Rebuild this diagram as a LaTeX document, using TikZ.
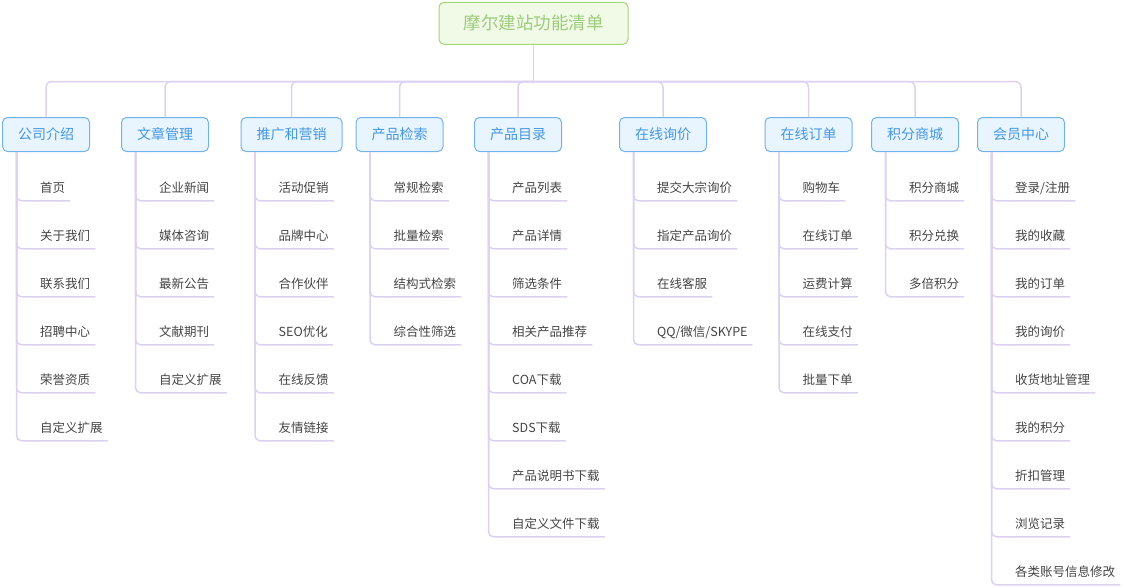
\documentclass[tikz,border=0pt]{standalone}
\usepackage{fontspec}
\newfontfamily\cjk{Noto Sans CJK SC}
\definecolor{lineC}{HTML}{DCD2F0}
\definecolor{catFill}{HTML}{E9F5FE}
\definecolor{catDraw}{HTML}{72B2EC}
\definecolor{catText}{HTML}{4496E4}
\definecolor{rootFill}{HTML}{F1FAE7}
\definecolor{rootDraw}{HTML}{A6D676}
\definecolor{rootText}{HTML}{9CCB7C}
\definecolor{itemText}{HTML}{444444}
\tikzset{
  conn/.style={draw=lineC, line width=1.5pt, rounded corners=6pt},
  rootbox/.style={draw=rootDraw, fill=rootFill, line width=1pt, rounded corners=5pt,
    minimum width=189pt, minimum height=42pt, inner sep=0pt,
    font=\cjk\fontsize{17.5}{18}\selectfont, text=rootText},
  catbox/.style={draw=catDraw, fill=catFill, line width=1pt, rounded corners=5pt,
    minimum height=34pt, inner xsep=15.5pt, inner ysep=0pt,
    font=\cjk\fontsize{14}{15}\selectfont, text=catText},
  itemtext/.style={anchor=base west, inner sep=0pt,
    font=\cjk\fontsize{12.5}{13}\selectfont, text=itemText}
}
\begin{document}
\begin{tikzpicture}[x=1pt,y=-1pt]
\useasboundingbox (0,0) rectangle (1124,587);
\node[rootbox] (r) at (533.5,23.3) {摩尔建站功能清单};
\coordinate (j) at (533.5,81.5);
\draw[conn, rounded corners=0pt] (r.south) -- (j);
\foreach \cx/\nm/\lab/\items in {
  46/ca/公司介绍/{首页,关于我们,联系我们,招聘中心,荣誉资质,自定义扩展},
  165/cb/文章管理/{企业新闻,媒体咨询,最新公告,文献期刊,自定义扩展},
  291.5/cc/推广和营销/{活动促销,品牌中心,合作伙伴,SEO优化,在线反馈,友情链接},
  399.5/cd/产品检索/{常规检索,批量检索,结构式检索,综合性筛选},
  518/ce/产品目录/{产品列表,产品详情,筛选条件,相关产品推荐,COA下载,SDS下载,产品说明书下载,自定义文件下载},
  663/cf/在线询价/{提交大宗询价,指定产品询价,在线客服,QQ/微信/SKYPE},
  808.5/cg/在线订单/{购物车,在线订单,运费计算,在线支付,批量下单},
  915/ch/积分商城/{积分商城,积分兑换,多倍积分},
  1021/ci/会员中心/{登录/注册,我的收藏,我的订单,我的询价,收货地址管理,我的积分,折扣管理,浏览记录,各类账号信息修改}}
{
  \node[catbox] (\nm) at (\cx,134.5) {\lab};
  \draw[conn] (j) -| (\nm.north);
  \coordinate (\nm-t) at ([xshift=14.5pt]\nm.south west);
  \coordinate (\nm-x) at ([xshift=38pt]\nm.south west);
  \foreach \it [count=\k] in \items {
    \pgfmathsetmacro\yy{192.8+48*(\k-1)}
    \node[itemtext] (\nm-\k) at (\nm-x |- 0,\yy) {\it};
    \draw[conn, rounded corners=5pt] (\nm-t) |- ([xshift=5pt,yshift=-8pt]\nm-\k.base east);
  }
}
\end{tikzpicture}
\end{document}
